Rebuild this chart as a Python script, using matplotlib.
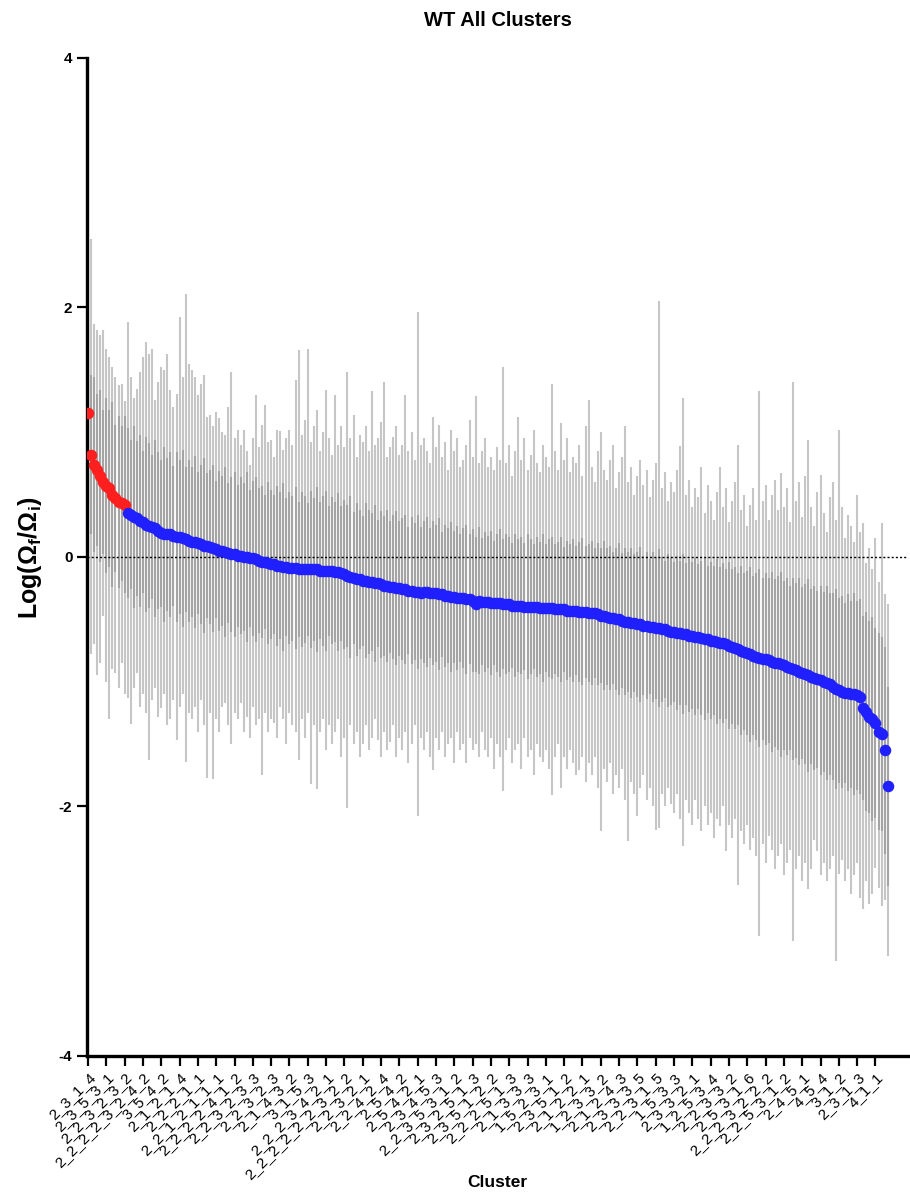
import numpy as np
import matplotlib
matplotlib.use("Agg")
import matplotlib.pyplot as plt

plt.rcParams['font.family'] = ['Liberation Sans', 'DejaVu Sans']
plt.rcParams['mathtext.fontset'] = 'custom'
plt.rcParams['mathtext.rm'] = 'Liberation Sans'
plt.rcParams['mathtext.bf'] = 'Liberation Sans:bold'

# mean log ratio per cluster, sorted
mean_vals = [
    1.15, 0.82, 0.74, 0.70, 0.65, 0.60, 0.57, 0.55, 0.50, 0.47, 0.44, 0.43, 0.42,
    0.35, 0.34, 0.32, 0.31, 0.29, 0.28, 0.26,
    0.25, 0.24, 0.23, 0.21, 0.19, 0.18, 0.18, 0.18, 0.17, 0.16, 0.16, 0.15, 0.14, 0.13, 0.12, 0.12, 0.11, 0.10, 0.09, 0.09,
    0.08, 0.07, 0.06, 0.05, 0.05, 0.04, 0.03, 0.02, 0.02, 0.01, 0.01, 0.00, 0.00, -0.01, -0.01, -0.02, -0.03, -0.04, -0.04, -0.05,
    -0.06, -0.06, -0.07, -0.07, -0.08, -0.08, -0.09, -0.09, -0.09, -0.10, -0.10, -0.10, -0.10, -0.10, -0.10, -0.10, -0.11, -0.11, -0.11, -0.11,
    -0.11, -0.12, -0.12, -0.13, -0.14, -0.15, -0.16, -0.17, -0.18, -0.18, -0.19, -0.19, -0.20, -0.20, -0.21, -0.21, -0.22, -0.23, -0.23, -0.24,
    -0.24, -0.25, -0.25, -0.26, -0.26, -0.27, -0.27, -0.28, -0.28, -0.29, -0.28, -0.28, -0.29, -0.29, -0.29, -0.30, -0.30, -0.31, -0.31, -0.32,
    -0.32, -0.33, -0.33, -0.33, -0.34, -0.34, -0.35, -0.38, -0.35, -0.36, -0.36, -0.36, -0.37, -0.37, -0.37, -0.37, -0.38, -0.38, -0.38, -0.39,
    -0.39, -0.39, -0.39, -0.40, -0.40, -0.40, -0.40, -0.40, -0.41, -0.41, -0.41, -0.41, -0.41, -0.42, -0.42, -0.42, -0.42, -0.43, -0.43, -0.43,
    -0.43, -0.44, -0.44, -0.44, -0.45, -0.45, -0.45, -0.46, -0.47, -0.47, -0.48, -0.49, -0.49, -0.50, -0.50, -0.51, -0.52, -0.52, -0.53, -0.53,
    -0.54, -0.54, -0.55, -0.55, -0.56, -0.56, -0.57, -0.57, -0.58, -0.58, -0.59, -0.60, -0.60, -0.61, -0.61, -0.62, -0.62, -0.63, -0.63, -0.64,
    -0.64, -0.65, -0.66, -0.66, -0.67, -0.67, -0.68, -0.69, -0.69, -0.70, -0.71, -0.72, -0.73, -0.74, -0.75, -0.76, -0.77, -0.78, -0.79, -0.80,
    -0.81, -0.82, -0.82, -0.83, -0.84, -0.85, -0.85, -0.86, -0.87, -0.88, -0.89, -0.90, -0.91, -0.92, -0.93, -0.94, -0.95, -0.96, -0.97, -0.98,
    -0.99, -1.00, -1.01, -1.02, -1.04, -1.06, -1.07, -1.08, -1.09, -1.09, -1.10, -1.10, -1.11, -1.12, -1.21, -1.24, -1.28, -1.30, -1.33, -1.40,
    -1.42, -1.55, -1.84,
]

# top of the range bar per cluster
range_hi = [
    1.85, 2.55, 1.87, 1.82, 1.78, 1.82, 1.67, 1.60, 1.52, 1.44, 1.38, 1.39, 1.25, 1.88, 1.44, 1.27, 1.35, 1.48, 1.60, 1.72,
    1.63, 1.67, 1.26, 1.40, 1.52, 1.50, 1.63, 1.34, 1.20, 1.31, 1.92, 1.44, 2.11, 1.55, 1.50, 1.44, 1.30, 1.39, 1.46, 1.12,
    1.14, 1.05, 1.16, 1.11, 1.00, 0.98, 1.20, 1.48, 0.95, 1.02, 0.90, 1.02, 0.85, 0.74, 0.95, 1.30, 0.88, 1.06, 1.22, 0.92,
    0.94, 0.80, 1.02, 1.01, 0.86, 0.95, 1.02, 0.90, 1.42, 1.66, 0.98, 1.10, 1.67, 0.92, 1.05, 1.18, 0.85, 1.00, 1.34, 0.95,
    0.82, 1.30, 0.90, 1.05, 0.88, 1.48, 0.95, 1.14, 0.80, 0.98, 0.92, 1.05, 0.85, 1.33, 0.90, 0.95, 1.08, 1.40, 0.80, 0.88,
    0.96, 1.05, 0.82, 0.90, 1.30, 0.85, 1.00, 0.78, 1.96, 0.90, 0.95, 0.85, 0.75, 1.12, 0.88, 1.06, 0.80, 0.92, 0.70, 1.02,
    0.85, 0.95, 0.72, 0.78, 0.90, 1.10, 0.80, 1.29, 0.75, 0.85, 0.95, 0.72, 0.80, 0.70, 0.88, 0.78, 1.52, 0.75, 0.90, 0.65,
    0.85, 1.12, 0.78, 0.95, 0.70, 0.82, 1.02, 0.75, 0.68, 0.90, 0.80, 0.72, 1.39, 0.85, 0.70, 1.07, 0.78, 0.95, 0.68, 0.80,
    0.75, 0.90, 0.65, 1.05, 1.26, 0.72, 0.60, 0.85, 1.00, 0.70, 0.62, 0.78, 0.90, 0.55, 0.68, 0.80, 1.05, 0.60, 0.72, 0.50,
    0.65, 0.78, 0.58, 0.70, 0.48, 0.62, 0.75, 2.05, 0.55, 0.68, 0.45, 0.60, 0.52, 0.70, 0.89, 1.27, 0.50, 0.62, 0.40, 0.55,
    0.48, 0.72, 0.35, 0.58, 0.45, 0.30, 0.52, 0.72, 0.40, 0.55, 0.28, 0.45, 0.60, 0.90, 0.38, 0.50, 0.25, 0.42, 0.55, 0.30,
    1.33, 0.45, 0.58, 0.30, 0.50, 0.62, 0.38, 0.67, 0.40, 0.55, 0.28, 1.40, 0.45, 0.60, 0.32, 0.65, 0.94, 0.40, 0.25, 0.52,
    0.66, 0.35, 0.20, 0.48, 0.60, 0.30, 1.02, 0.40, 0.15, 0.34, 0.25, 0.12, 0.50, 0.20, 0.27, -0.05, 0.07, -0.10, 0.15, -0.20,
    0.27, -0.30, -0.38,
]

# bottom of the range bar per cluster
range_lo = [
    -0.55, -0.78, -0.70, -0.95, -0.85, -0.47, -1.00, -1.30, -0.90, -0.93, -1.05, -0.85, -1.10, -1.13, -1.34, -1.05, -0.93, -1.20, -1.10, -1.25,
    -1.63, -1.15, -1.05, -1.28, -1.21, -1.10, -1.35, -1.30, -1.15, -1.47, -1.20, -1.10, -1.64, -1.25, -1.30, -1.20, -1.40, -1.15, -1.35, -1.77,
    -1.25, -1.78, -1.30, -1.40, -1.20, -1.17, -1.35, -1.50, -1.25, -1.30, -1.17, -1.40, -1.28, -1.45, -1.20, -1.35, -1.30, -1.75, -1.25, -1.40,
    -1.30, -1.33, -1.45, -1.20, -1.30, -1.50, -1.25, -1.35, -1.40, -1.63, -1.30, -1.45, -1.25, -1.82, -1.35, -1.86, -1.40, -1.30, -1.55, -1.35,
    -1.50, -1.40, -1.30, -1.60, -1.45, -2.01, -1.35, -1.50, -1.40, -1.60, -1.50, -1.35, -1.55, -1.45, -1.30, -1.47, -1.60, -1.40, -1.55, -1.48,
    -1.35, -1.60, -1.45, -1.55, -1.40, -1.65, -1.50, -1.35, -2.08, -1.45, -1.55, -1.40, -1.60, -1.71, -1.45, -1.55, -1.40, -1.60, -1.50, -1.45,
    -1.65, -1.40, -1.55, -1.50, -1.65, -1.45, -1.55, -1.50, -1.60, -1.40, -1.55, -1.60, -1.45, -1.70, -1.50, -1.60, -1.88, -1.55, -1.45, -1.65,
    -1.55, -1.50, -1.70, -1.45, -1.60, -1.55, -1.75, -1.50, -1.60, -1.64, -1.55, -1.70, -1.91, -1.60, -1.50, -1.85, -1.60, -1.70, -1.55, -1.65,
    -1.75, -1.71, -1.60, -1.80, -1.65, -1.75, -1.60, -1.85, -2.20, -1.70, -1.80, -1.65, -1.90, -1.75, -1.85, -1.70, -1.95, -2.28, -1.80, -1.90,
    -2.08, -1.85, -1.75, -1.95, -1.85, -2.00, -2.19, -2.17, -1.90, -2.00, -1.85, -1.98, -2.05, -1.90, -2.10, -2.32, -1.95, -2.05, -2.15, -1.95,
    -2.10, -2.20, -2.00, -2.15, -2.05, -2.25, -2.10, -2.16, -2.00, -2.36, -2.15, -2.25, -2.10, -2.63, -2.20, -2.30, -2.15, -2.35, -2.25, -2.40,
    -3.04, -2.30, -2.45, -2.24, -2.35, -2.50, -2.40, -2.30, -2.55, -2.45, -2.35, -3.08, -2.50, -2.40, -2.60, -2.45, -2.66, -2.50, -2.27, -2.36,
    -2.55, -2.45, -2.60, -2.50, -2.40, -3.24, -2.54, -2.43, -2.60, -2.50, -2.70, -2.55, -2.45, -2.73, -2.82, -2.60, -2.78, -2.70, -2.49, -2.65,
    -2.80, -2.75, -3.20,
]

# half-width of the inner (darker) bar per cluster
sd_vals = [
    0.72, 0.64, 0.70, 0.61, 0.69, 0.58, 0.70, 0.63, 0.74, 0.59, 0.69, 0.62, 0.71, 0.68, 0.60, 0.73, 0.62, 0.69, 0.57, 0.70,
    0.66, 0.58, 0.71, 0.63, 0.59, 0.70, 0.61, 0.66, 0.56, 0.68, 0.62, 0.71, 0.58, 0.65, 0.60, 0.69, 0.57, 0.64, 0.70, 0.58,
    0.62, 0.67, 0.55, 0.64, 0.60, 0.68, 0.56, 0.62, 0.66, 0.57, 0.63, 0.59, 0.68, 0.55, 0.62, 0.66, 0.58, 0.61, 0.54, 0.65,
    0.60, 0.56, 0.64, 0.59, 0.67, 0.55, 0.61, 0.58, 0.65, 0.54, 0.62, 0.59, 0.53, 0.63, 0.57, 0.66, 0.55, 0.60, 0.64, 0.52,
    0.59, 0.56, 0.63, 0.54, 0.60, 0.57, 0.65, 0.53, 0.61, 0.56, 0.52, 0.62, 0.58, 0.55, 0.63, 0.51, 0.59, 0.56, 0.61, 0.53,
    0.58, 0.62, 0.54, 0.57, 0.60, 0.51, 0.59, 0.55, 0.62, 0.53, 0.57, 0.60, 0.52, 0.58, 0.55, 0.61, 0.50, 0.57, 0.54, 0.60,
    0.53, 0.58, 0.51, 0.56, 0.60, 0.52, 0.57, 0.54, 0.59, 0.51, 0.56, 0.53, 0.58, 0.50, 0.55, 0.59, 0.52, 0.56, 0.54, 0.50,
    0.57, 0.53, 0.55, 0.51, 0.58, 0.54, 0.50, 0.56, 0.53, 0.59, 0.51, 0.55, 0.57, 0.52, 0.54, 0.58, 0.50, 0.56, 0.53, 0.57,
    0.52, 0.56, 0.59, 0.53, 0.55, 0.58, 0.52, 0.57, 0.54, 0.60, 0.55, 0.58, 0.53, 0.57, 0.61, 0.54, 0.59, 0.56, 0.60, 0.55,
    0.58, 0.62, 0.56, 0.59, 0.54, 0.60, 0.57, 0.63, 0.58, 0.55, 0.61, 0.59, 0.56, 0.62, 0.58, 0.64, 0.57, 0.61, 0.59, 0.63,
    0.58, 0.62, 0.65, 0.59, 0.63, 0.60, 0.66, 0.61, 0.64, 0.60, 0.67, 0.62, 0.65, 0.61, 0.68, 0.63, 0.66, 0.70, 0.64, 0.67,
    0.71, 0.65, 0.69, 0.66, 0.72, 0.67, 0.70, 0.74, 0.68, 0.71, 0.66, 0.73, 0.70, 0.75, 0.69, 0.72, 0.77, 0.70, 0.74, 0.71,
    0.76, 0.72, 0.78, 0.73, 0.75, 0.80, 0.74, 0.77, 0.72, 0.79, 0.75, 0.81, 0.76, 0.78, 0.74, 0.80, 0.77, 0.82, 0.76, 0.79,
    0.78, 0.83, 0.80,
]

# first clusters drawn in red
n_red = 13

# every sixth cluster carries a label on the axis
tick_labels = [
    "2_3_1_4", "2_3_5_3_1", "2_2_3_2_3_2", "2_2_2_2_3_2_4_2", "3_5_4_2", "2_1_2_1_4",
    "2_2_2_1_1", "2_2_1_2_1_1_1", "2_2_2_2_4_1_2", "2_2_3_2_3_3", "2_2_3_2_3", "2_1_4_3_2",
    "3_1_5_3", "2_2_2_3_4_2_1", "2_2_2_2_2_2_3_2_2", "2_2_3_2_1", "2_2_4_2_4", "2_5_4_2",
    "2_5_4_2_1", "2_3_4_5_3", "2_2_3_5_3_1_2", "2_3_2_5_1_3", "2_3_5_1_2_2", "2_2_2_5_1_3",
    "2_1_3_3_3", "1_5_2_3_1", "2_3_5_1_2", "2_1_2_2_1", "1_2_3_3_2", "2_1_2_4_3",
    "2_3_3_3_5", "2_2_3_1_5", "1_5_3_3", "2_3_3_2_1", "1_2_5_3_4", "2_2_3_3_2",
    "2_5_3_1_6", "2_2_2_3_2_2_2", "2_2_5_3_1_2", "2_4_5_1", "4_5_4", "3_1_2",
    "2_3_1_3", "4_1_1",
]

mean = np.array(mean_vals)
hi = np.array(range_hi)
lo = np.array(range_lo)
sd = np.array(sd_vals)
x = np.arange(len(mean))

fig = plt.figure(figsize=(9.1, 11.94), dpi=100)
ax = fig.add_axes([0.0956, 0.1156, 0.902, 0.8359])

ax.vlines(x, lo, hi, color='#c6c6c6', linewidth=1.5, zorder=1)
ax.vlines(x, mean - sd, mean + sd, color='#a4a4a4', linewidth=1.5, zorder=2)
ax.axhline(0, color='black', linestyle=(0, (1.5, 1.5)), linewidth=1.0, zorder=3)

ax.plot(x[:n_red], mean[:n_red], 'o', color='#ff1f1f', markersize=8.3, markeredgewidth=0, zorder=4)
ax.plot(x[n_red:], mean[n_red:], 'o', color='#1f1fff', markersize=8.3, markeredgewidth=0, zorder=4)

ax.set_xlim(-0.33, 268.6)
ax.set_ylim(-4, 4)
ax.set_yticks([-4, -2, 0, 2, 4])
ax.set_yticklabels(['-4', '-2', '0', '2', '4'], fontweight='bold', fontsize=11)
ax.set_xticks(x[::6])
ax.set_xticklabels(tick_labels, rotation=45, ha='right', rotation_mode='anchor', fontsize=11)

for side in ['top', 'right']:
    ax.spines[side].set_visible(False)
for side in ['left', 'bottom']:
    ax.spines[side].set_linewidth(2.4)
ax.tick_params(axis='both', length=7, width=1.6, direction='out')
ax.tick_params(axis='x', pad=3)

fig.text(0.547, 0.983, 'WT All Clusters', ha='center', va='center', fontsize=14.5, fontweight='bold')
fig.text(0.033, 0.533, r'Log(Ω$_\mathbf{f}$/Ω$_\mathbf{i}$)', rotation=90, ha='center', va='center',
         fontsize=18, fontweight='bold')
fig.text(0.546, 0.010, 'Cluster', ha='center', va='center', fontsize=12.5, fontweight='bold')

fig.savefig('out.png', dpi=100)
